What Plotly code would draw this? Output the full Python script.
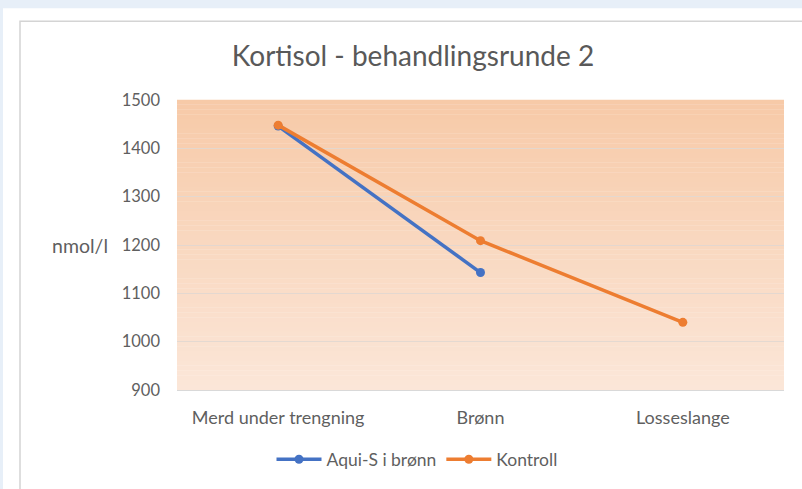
import plotly.graph_objects as go

categories = ["Merd under trengning", "Brønn", "Losseslange"]
aqui_s = [1446, 1143, None]
kontroll = [1448, 1209, 1040]
y_ticks = [900, 1000, 1100, 1200, 1300, 1400, 1500]

W, H = 802, 489
L, R, T, B = 177, 784, 99.5, 392  # plot area in pixels


def px_x(p):
    return (p - L) / (R - L)


def px_y(p):
    return (B - p) / (B - T)


fig = go.Figure()
fig.add_trace(go.Scatter(name="Aqui-S i brønn", x=categories, y=aqui_s, mode="lines+markers",
                         line=dict(color="#4472C4", width=3.5), marker=dict(size=9, color="#4472C4")))
fig.add_trace(go.Scatter(name="Kontroll", x=categories, y=kontroll, mode="lines+markers",
                         line=dict(color="#ED7D31", width=3.5), marker=dict(size=9, color="#ED7D31")))

shapes = []
# white page area and chart box with border
shapes.append(dict(type="rect", xref="paper", yref="paper", layer="below",
                   x0=px_x(3), x1=px_x(W + 5), y0=px_y(H + 5), y1=px_y(7),
                   fillcolor="white", line=dict(width=0)))
shapes.append(dict(type="rect", xref="paper", yref="paper", layer="below",
                   x0=px_x(20), x1=px_x(W + 5), y0=px_y(H + 5), y1=px_y(20),
                   fillcolor="white", line=dict(color="#d4d4d4", width=1.5)))
# vertical gradient for plot area
top = (247, 202, 168)
bot = (251, 230, 216)
n = 60
for i in range(n):
    t = i / (n - 1)
    c = tuple(round(top[k] + (bot[k] - top[k]) * t) for k in range(3))
    shapes.append(dict(type="rect", xref="x domain", yref="y domain", layer="below",
                       x0=0, x1=1, y0=1 - (i + 1) / n, y1=1 - i / n + 0.001,
                       fillcolor="rgb(%d,%d,%d)" % c, line=dict(width=0)))

fig.update_layout(
    width=W, height=H,
    margin=dict(l=L, r=W - R, t=T, b=H - B),
    paper_bgcolor="#e7eff8",
    plot_bgcolor="rgba(0,0,0,0)",
    font=dict(family="Lato, Open Sans, sans-serif", color="#5f5f5f", size=16),
    title=dict(text="Kortisol - behandlingsrunde 2", x=413 / W,
               xanchor="center", y=1 - 56 / H, yanchor="middle",
               font=dict(size=28, color="#595959")),
    shapes=shapes,
    showlegend=True,
    legend=dict(orientation="h", x=px_x(417), xanchor="center", y=px_y(462), yanchor="middle",
                font=dict(size=17.5, color="#5f5f5f"), bgcolor="rgba(0,0,0,0)", itemwidth=45),
    annotations=[dict(text="nmol/l", xref="paper", yref="paper", x=px_x(110), xanchor="right",
                      y=px_y(246), yanchor="middle", showarrow=False,
                      font=dict(size=19.5, color="#5f5f5f"))],
)
fig.update_xaxes(type="category", range=[-0.5, 2.5], showgrid=False, showline=True,
                 linecolor="#d9d9d9", linewidth=1, ticks="", tickfont=dict(size=18),
                 ticklabelstandoff=11)
fig.update_yaxes(range=[900, 1500], tickvals=y_ticks, showgrid=True,
                 gridcolor="rgba(225,215,208,0.9)", gridwidth=1, zeroline=False,
                 showline=False, ticks="", ticklabelstandoff=16, tickfont=dict(size=16.5))

fig.write_html("out.html", config={"displayModeBar": False},
               post_script="document.body.style.margin='0';")
